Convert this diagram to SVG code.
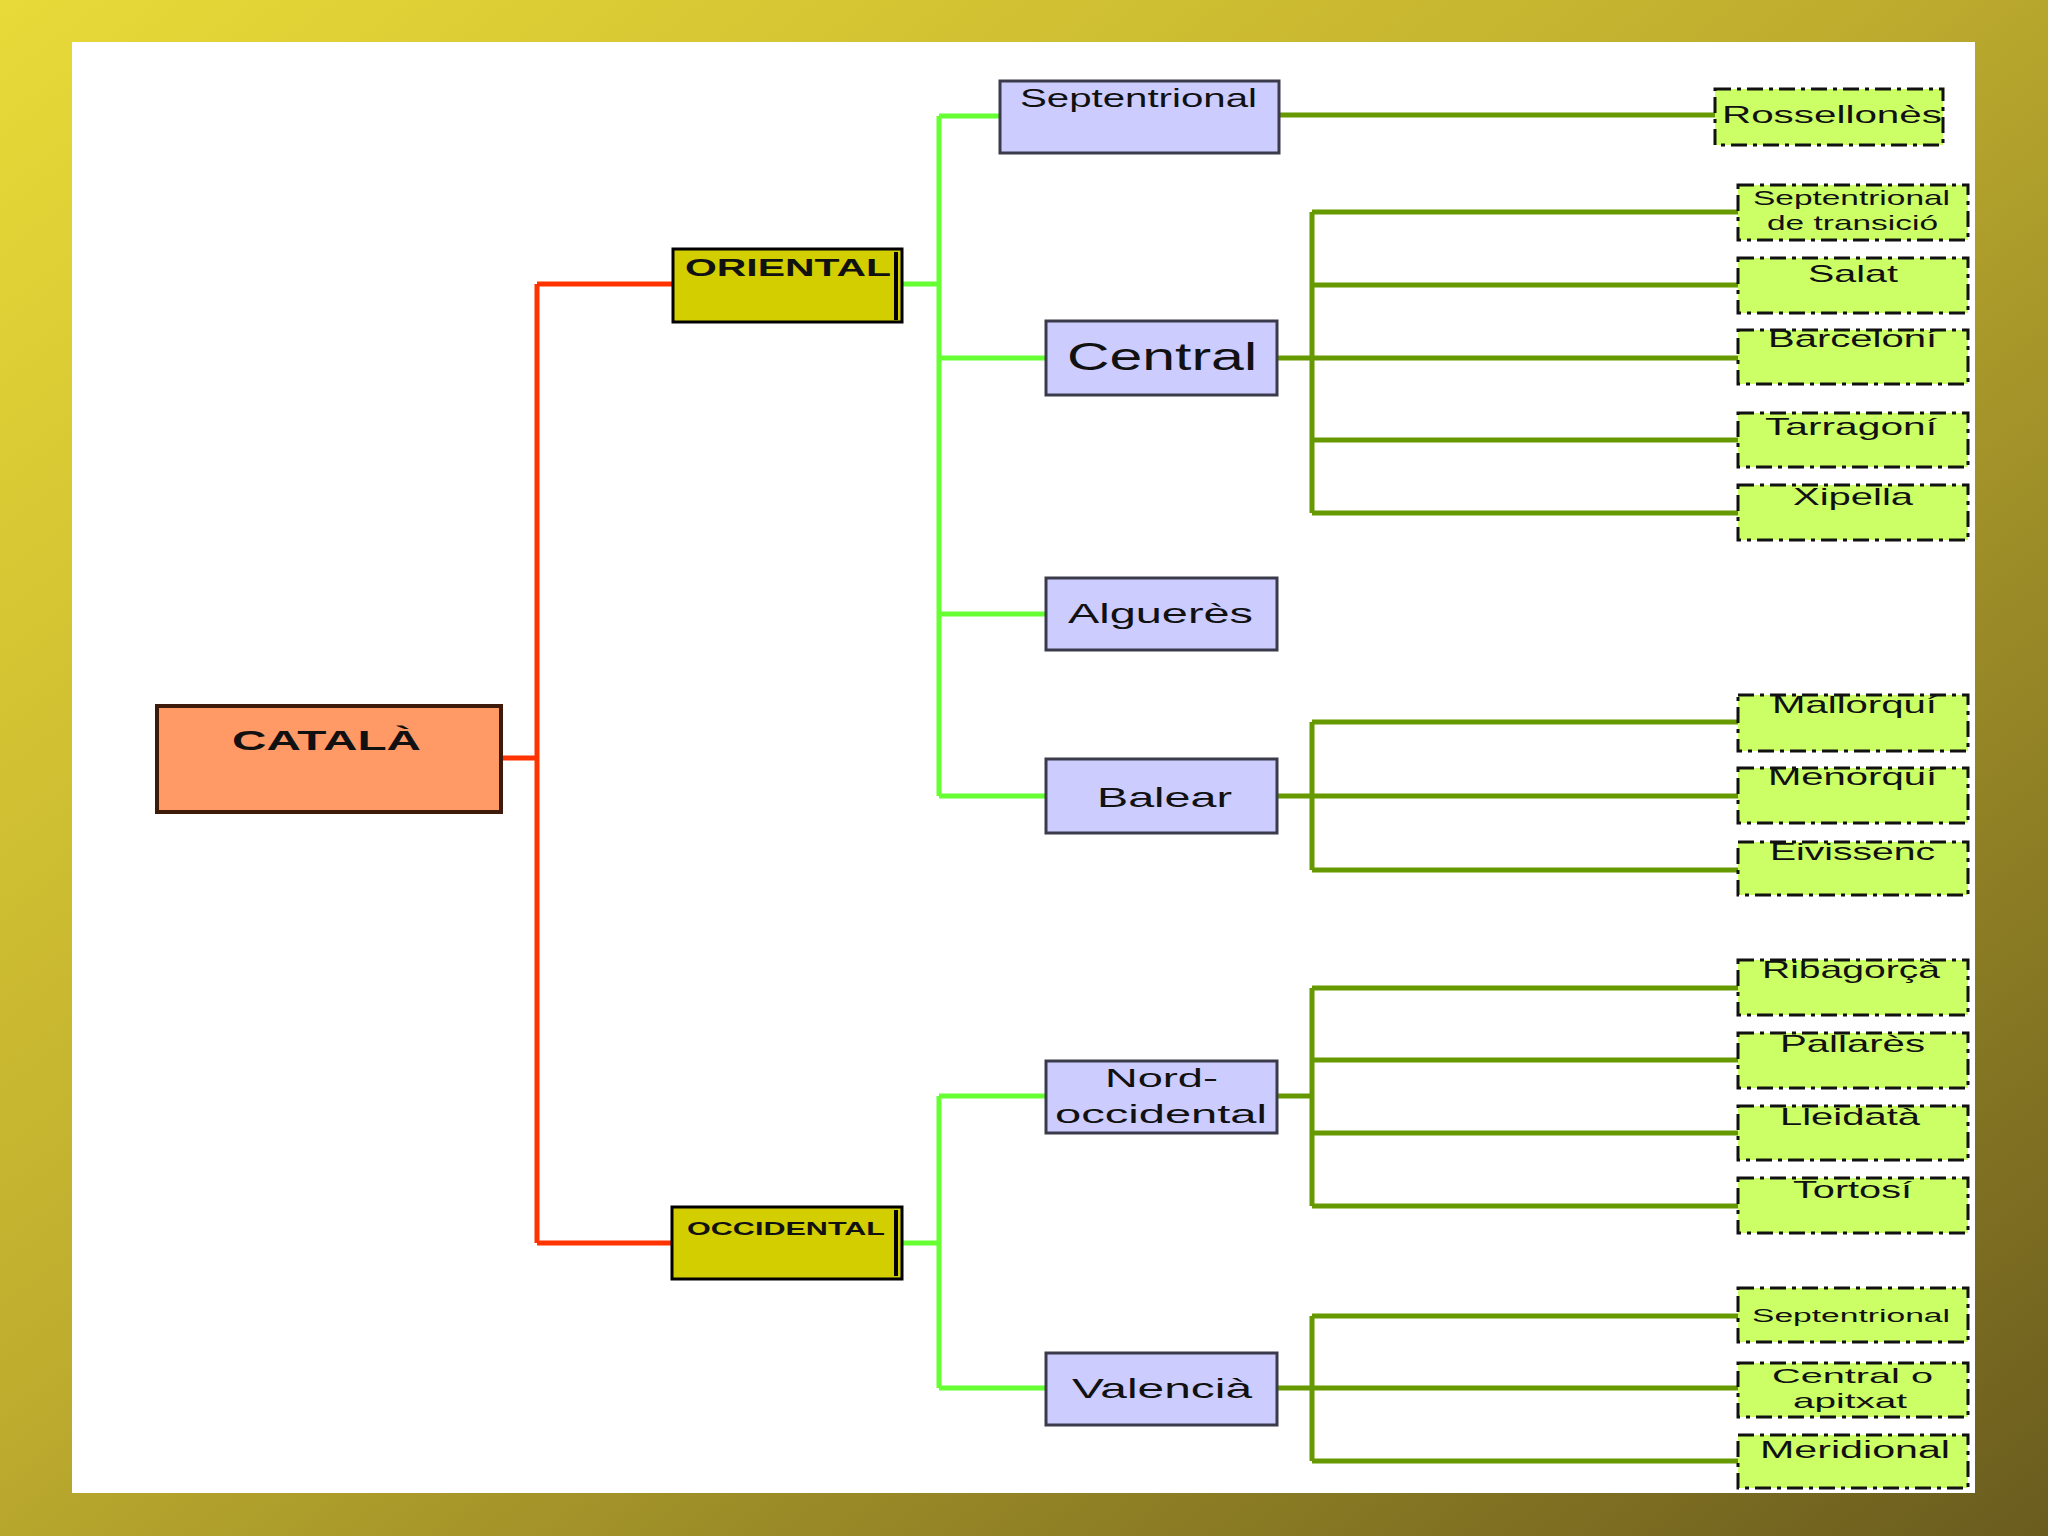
<svg xmlns="http://www.w3.org/2000/svg" width="2048" height="1536" viewBox="0 0 2048 1536">
<defs>
<linearGradient id="frame" x1="0" y1="0" x2="1" y2="1">
<stop offset="0" stop-color="#E8DA38"/>
<stop offset="0.45" stop-color="#BFAE2E"/>
<stop offset="1" stop-color="#6A5C1E"/>
</linearGradient>
<style>
text{font-family:"Liberation Sans",Arial,sans-serif;fill:#111;}
.b{font-weight:bold;}
.mid rect{fill:#CCCCFF;stroke:#3a3a4a;stroke-width:3;}
.leaf rect{fill:#CCFF66;stroke:#111;stroke-width:3;stroke-dasharray:16 6 4 6;}
.cat rect{fill:#FF9966;stroke:#3D1A0A;stroke-width:4;}
.reg rect{fill:#D2CE00;stroke:#000;stroke-width:3;}
.red{stroke:#FF3300;stroke-width:5;fill:none;}
.lg{stroke:#66FF33;stroke-width:5;fill:none;}
.ol{stroke:#669900;stroke-width:5;fill:none;}
</style>
</defs>
<rect x="0" y="0" width="2048" height="1536" fill="url(#frame)"/>
<rect x="72" y="42" width="1903" height="1451" fill="#FFFFFF"/>

<g id="connectors">
<path class="red" d="M502 758 H537 M537 284 V1243 M537 284 H673 M537 1243 H672"/>
<path class="lg" d="M903 284 H939 M939 116 V796 M939 116 H1000 M939 358 H1046 M939 614 H1046 M939 796 H1046"/>
<path class="lg" d="M902 1243 H939 M939 1096 V1388 M939 1096 H1046 M939 1388 H1046"/>
<path class="ol" d="M1280 115 H1715"/>
<path class="ol" d="M1277 358 H1312 M1312 212 V513 M1312 212 H1738 M1312 285 H1738 M1312 358 H1738 M1312 440 H1738 M1312 513 H1738"/>
<path class="ol" d="M1277 796 H1312 M1312 722 V870 M1312 722 H1738 M1312 796 H1738 M1312 870 H1738"/>
<path class="ol" d="M1278 1096 H1312 M1312 988 V1206 M1312 988 H1738 M1312 1060 H1738 M1312 1133 H1738 M1312 1206 H1738"/>
<path class="ol" d="M1277 1388 H1312 M1312 1316 V1461 M1312 1316 H1738 M1312 1388 H1738 M1312 1461 H1738"/>
</g>

<g id="catala" class="cat">
<rect x="157" y="706" width="344" height="106"/>
<text class="b" x="232" y="750" font-size="28" textLength="189" lengthAdjust="spacingAndGlyphs">CATALÀ</text>
</g>

<g id="oriental" class="reg">
<rect x="673" y="249" width="229" height="73"/>
<line x1="896" y1="252" x2="896" y2="320" stroke="#000" stroke-width="4"/>
<text class="b" x="685" y="276" font-size="24" textLength="206" lengthAdjust="spacingAndGlyphs">ORIENTAL</text>
</g>

<g id="occidental" class="reg">
<rect x="672" y="1207" width="230" height="72"/>
<line x1="896" y1="1210" x2="896" y2="1276" stroke="#000" stroke-width="4"/>
<text class="b" x="687" y="1235" font-size="19" textLength="198" lengthAdjust="spacingAndGlyphs">OCCIDENTAL</text>
</g>

<g id="septentrional" class="mid">
<rect x="1000" y="81" width="279" height="72"/>
<text x="1020" y="107" font-size="26" textLength="237" lengthAdjust="spacingAndGlyphs">Septentrional</text>
</g>
<g id="central" class="mid">
<rect x="1046" y="321" width="231" height="74"/>
<text x="1067" y="370" font-size="38" textLength="190" lengthAdjust="spacingAndGlyphs">Central</text>
</g>
<g id="algueres" class="mid">
<rect x="1046" y="578" width="231" height="72"/>
<text x="1068" y="623" font-size="28" textLength="185" lengthAdjust="spacingAndGlyphs">Alguerès</text>
</g>
<g id="balear" class="mid">
<rect x="1046" y="759" width="231" height="74"/>
<text x="1097" y="807" font-size="28" textLength="135" lengthAdjust="spacingAndGlyphs">Balear</text>
</g>
<g id="nordoccidental" class="mid">
<rect x="1046" y="1061" width="231" height="72"/>
<text x="1105" y="1087" font-size="26" textLength="113" lengthAdjust="spacingAndGlyphs">Nord-</text>
<text x="1055" y="1123" font-size="26" textLength="212" lengthAdjust="spacingAndGlyphs">occidental</text>
</g>
<g id="valencia" class="mid">
<rect x="1046" y="1353" width="231" height="72"/>
<text x="1072" y="1398" font-size="28" textLength="180" lengthAdjust="spacingAndGlyphs">Valencià</text>
</g>

<g id="rossellones" class="leaf">
<rect x="1715" y="89" width="228" height="56"/>
<text x="1722" y="123" font-size="23" textLength="220" lengthAdjust="spacingAndGlyphs">Rossellonès</text>
</g>
<g id="septentrional-transicio" class="leaf">
<rect x="1738" y="185" width="230" height="55"/>
<text x="1753" y="205" font-size="21" textLength="197" lengthAdjust="spacingAndGlyphs">Septentrional</text>
<text x="1767" y="230" font-size="21" textLength="171" lengthAdjust="spacingAndGlyphs">de transició</text>
</g>
<g id="salat" class="leaf">
<rect x="1738" y="258" width="230" height="55"/>
<text x="1808" y="282" font-size="24" textLength="90" lengthAdjust="spacingAndGlyphs">Salat</text>
</g>
<g id="barceloni" class="leaf">
<rect x="1738" y="330" width="230" height="54"/>
<text x="1768" y="347" font-size="24" textLength="169" lengthAdjust="spacingAndGlyphs">Barceloní</text>
</g>
<g id="tarragoni" class="leaf">
<rect x="1738" y="413" width="230" height="54"/>
<text x="1765" y="435" font-size="24" textLength="172" lengthAdjust="spacingAndGlyphs">Tarragoní</text>
</g>
<g id="xipella" class="leaf">
<rect x="1738" y="485" width="230" height="55"/>
<text x="1793" y="505" font-size="24" textLength="120" lengthAdjust="spacingAndGlyphs">Xipella</text>
</g>
<g id="mallorqui" class="leaf">
<rect x="1738" y="695" width="230" height="56"/>
<text x="1772" y="713" font-size="24" textLength="165" lengthAdjust="spacingAndGlyphs">Mallorquí</text>
</g>
<g id="menorqui" class="leaf">
<rect x="1738" y="768" width="230" height="55"/>
<text x="1768" y="785" font-size="24" textLength="169" lengthAdjust="spacingAndGlyphs">Menorquí</text>
</g>
<g id="eivissenc" class="leaf">
<rect x="1738" y="842" width="230" height="53"/>
<text x="1770" y="860" font-size="24" textLength="165" lengthAdjust="spacingAndGlyphs">Eivissenc</text>
</g>
<g id="ribagorca" class="leaf">
<rect x="1738" y="960" width="230" height="55"/>
<text x="1762" y="978" font-size="24" textLength="178" lengthAdjust="spacingAndGlyphs">Ribagorçà</text>
</g>
<g id="pallares" class="leaf">
<rect x="1738" y="1033" width="230" height="55"/>
<text x="1780" y="1052" font-size="24" textLength="145" lengthAdjust="spacingAndGlyphs">Pallarès</text>
</g>
<g id="lleidata" class="leaf">
<rect x="1738" y="1106" width="230" height="54"/>
<text x="1780" y="1125" font-size="24" textLength="140" lengthAdjust="spacingAndGlyphs">Lleidatà</text>
</g>
<g id="tortosi" class="leaf">
<rect x="1738" y="1178" width="230" height="55"/>
<text x="1793" y="1198" font-size="24" textLength="119" lengthAdjust="spacingAndGlyphs">Tortosí</text>
</g>
<g id="septentrional-valencia" class="leaf">
<rect x="1738" y="1288" width="230" height="54"/>
<text x="1752" y="1322" font-size="18" textLength="198" lengthAdjust="spacingAndGlyphs">Septentrional</text>
</g>
<g id="central-apitxat" class="leaf">
<rect x="1738" y="1363" width="230" height="54"/>
<text x="1772" y="1383" font-size="21" textLength="161" lengthAdjust="spacingAndGlyphs">Central o</text>
<text x="1793" y="1408" font-size="21" textLength="114" lengthAdjust="spacingAndGlyphs">apitxat</text>
</g>
<g id="meridional" class="leaf">
<rect x="1738" y="1435" width="230" height="53"/>
<text x="1760" y="1458" font-size="23" textLength="190" lengthAdjust="spacingAndGlyphs">Meridional</text>
</g>
</svg>
